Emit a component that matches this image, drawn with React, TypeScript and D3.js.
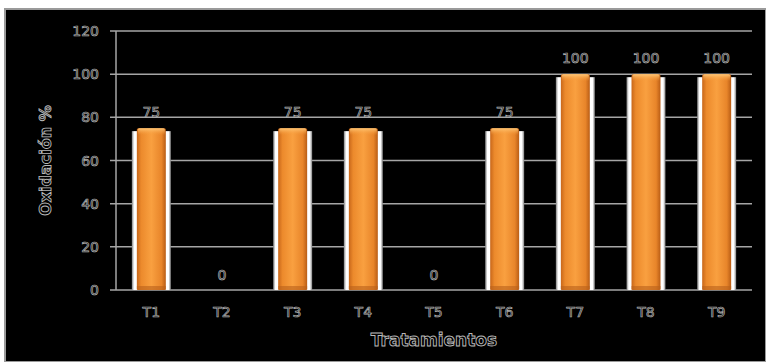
import React from "react";
import * as d3 from "d3";

const categories = ["T1", "T2", "T3", "T4", "T5", "T6", "T7", "T8", "T9"];
const values = [75, 0, 75, 75, 0, 75, 100, 100, 100];
const yTicks = [0, 20, 40, 60, 80, 100, 120];
const yTitle = "Oxidación %";
const xTitle = "Tratamientos";

const W = 766;
const H = 362;
const margin = { left: 116, right: 14, top: 31, bottom: 72 };

export default function App() {
  const x = d3
    .scaleBand<string>()
    .domain(categories)
    .range([margin.left, W - margin.right])
    .paddingInner(0.59)
    .paddingOuter(0.295);
  const y = d3.scaleLinear().domain([0, 120]).range([H - margin.bottom, margin.top]);
  const bw = x.bandwidth();
  const font = "'DejaVu Sans', sans-serif";
  const outline = { fill: "#050505", stroke: "#b4b4b4", strokeWidth: 0.7 } as const;
  const titleOutline = { fill: "#000", stroke: "#b8b8b8", strokeWidth: 0.9 } as const;

  return (
    <svg
      width={W}
      height={H}
      style={{ position: "absolute", left: 0, top: 0, background: "#fff" }}
    >
      <defs>
        <linearGradient id="barGrad" x1="0" x2="1" y1="0" y2="0">
          <stop offset="0" stopColor="#c8671a" />
          <stop offset="0.15" stopColor="#ec8a2c" />
          <stop offset="0.5" stopColor="#f9a040" />
          <stop offset="0.85" stopColor="#e8852a" />
          <stop offset="1" stopColor="#b95d15" />
        </linearGradient>
        <linearGradient id="topGrad" x1="0" x2="0" y1="0" y2="1">
          <stop offset="0" stopColor="#ffc878" />
          <stop offset="1" stopColor="#f59a3a" stopOpacity="0" />
        </linearGradient>
        <linearGradient id="glow" x1="0" x2="1" y1="0" y2="0">
          <stop offset="0" stopColor="#808080" />
          <stop offset="0.06" stopColor="#ffffff" />
          <stop offset="0.94" stopColor="#ffffff" />
          <stop offset="1" stopColor="#808080" />
        </linearGradient>
      </defs>
      <rect x={5} y={9} width={W - 5} height={H - 9} fill="#000" stroke="#9a9a9a" strokeWidth={2} />

      {yTicks.map((t) => (
        <g key={t}>
          <line
            x1={margin.left - 6}
            x2={W - margin.right}
            y1={y(t)}
            y2={y(t)}
            stroke="#a6a6a6"
            strokeWidth={1.5}
          />
          <text
            x={margin.left - 17}
            y={y(t)}
            dy="0.36em"
            textAnchor="end"
            fontFamily={font}
            fontSize={14}
            {...outline}
          >
            {t}
          </text>
        </g>
      ))}
      <line
        x1={margin.left}
        x2={margin.left}
        y1={y(120)}
        y2={y(0)}
        stroke="#a6a6a6"
        strokeWidth={1.5}
      />

      {categories.map((c, i) => {
        const v = values[i];
        const bx = x(c)!;
        const top = y(v);
        const h = y(0) - top;
        return (
          <g key={c}>
            {v > 0 && (
              <>
                <rect x={bx - 5} y={top + 3} width={bw + 10} height={h - 3} fill="url(#glow)" />
                <rect x={bx} y={top} width={bw} height={h} fill="url(#barGrad)" rx={1.5} />
                <rect x={bx + 1} y={top} width={bw - 2} height={7} fill="url(#topGrad)" rx={1.5} />
                <rect x={bx} y={y(0) - 4} width={bw} height={4} fill="#b9601a" opacity={0.6} />
              </>
            )}
            <text
              x={bx + bw / 2}
              y={top - (v === 0 ? 10 : 11)}
              textAnchor="middle"
              fontFamily={font}
              fontSize={14}
              {...outline}
            >
              {v}
            </text>
            <text
              x={bx + bw / 2}
              y={317}
              textAnchor="middle"
              fontFamily={font}
              fontSize={14}
              {...outline}
            >
              {c}
            </text>
          </g>
        );
      })}

      <text
        x={(margin.left + W - margin.right) / 2}
        y={346}
        textAnchor="middle"
        fontFamily={font}
        fontSize={17}
        fontWeight="bold"
        {...titleOutline}
      >
        {xTitle}
      </text>
      <text
        transform={`translate(51, ${(y(0) + y(120)) / 2}) rotate(-90)`}
        textAnchor="middle"
        fontFamily={font}
        fontSize={16}
        fontWeight="bold"
        {...titleOutline}
      >
        {yTitle}
      </text>
    </svg>
  );
}
